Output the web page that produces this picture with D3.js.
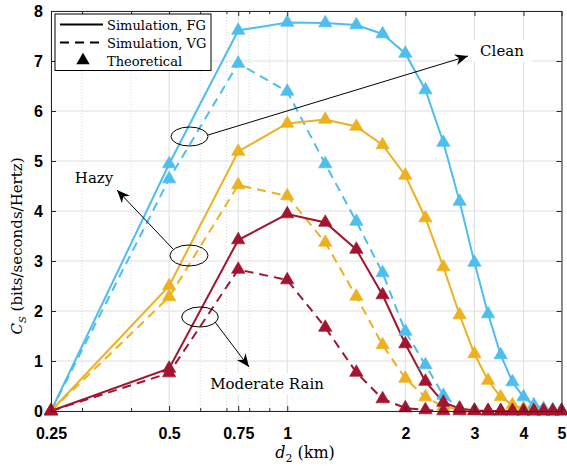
<!DOCTYPE html>
<html>
<head>
<meta charset="utf-8">
<script src="https://cdn.jsdelivr.net/npm/d3@7"></script>
<style>
  body { margin: 0; background: #fff; }
  svg { display: block; }
  .tick text { font-family: "Liberation Sans", Arial, sans-serif; font-weight: bold; font-size: 16px; fill: #000; }
  .serif { font-family: "DejaVu Serif", "Liberation Serif", serif; }
</style>
</head>
<body>
<svg id="svgRoot" width="567" height="466"></svg>
<script>
// distance values (km)
const d2 = [0.25, 0.5, 0.75, 1, 1.25, 1.5, 1.75, 2, 2.25, 2.5, 2.75, 3, 3.25, 3.5, 3.75, 4, 4.25, 4.5, 4.75, 5]

// secrecy capacity
const clean_fg = [0, 4.94, 7.61, 7.77, 7.76, 7.72, 7.54, 7.15, 6.42, 5.37, 4.19, 2.97, 1.94, 1.12, 0.58, 0.28, 0.12, 0.05, 0.02, 0.01]
const clean_vg = [0, 4.64, 6.95, 6.39, 4.94, 3.79, 2.76, 1.59, 0.92, 0.31, 0.05, 0.01, 0, 0, 0, 0, 0, 0, 0, 0]
const hazy_fg = [0, 2.5, 5.19, 5.75, 5.83, 5.69, 5.32, 4.71, 3.86, 2.88, 1.92, 1.14, 0.61, 0.28, 0.12, 0.05, 0.02, 0.01, 0, 0]
const hazy_vg = [0, 2.28, 4.52, 4.3, 3.37, 2.29, 1.32, 0.65, 0.28, 0.09, 0.03, 0.01, 0, 0, 0, 0, 0, 0, 0, 0]
const rain_fg = [0, 0.85, 3.42, 3.94, 3.77, 3.23, 2.32, 1.34, 0.59, 0.17, 0.05, 0.01, 0, 0, 0, 0, 0, 0, 0, 0]
const rain_vg = [0, 0.76, 2.83, 2.62, 1.67, 0.77, 0.24, 0.06, 0.02, 0, 0, 0, 0, 0, 0, 0, 0, 0, 0, 0]

const xTicks = [0.25, 0.5, 0.75, 1, 2, 3, 4, 5]
const xMinor = [0.3, 0.4, 0.6, 0.7, 0.8, 0.9]
const yTicks = [0, 1, 2, 3, 4, 5, 6, 7, 8]
const legendLabels = ["Simulation, FG", "Simulation, VG", "Theoretical"]

const col_clean = "#4DBEEE"
const col_hazy = "#EDB120"
const col_rain = "#A2142F"

let series = [
  { values: clean_fg, color: col_clean, dash: null },
  { values: clean_vg, color: col_clean, dash: "9,6" },
  { values: hazy_fg, color: col_hazy, dash: null },
  { values: hazy_vg, color: col_hazy, dash: "9,6" },
  { values: rain_fg, color: col_rain, dash: null },
  { values: rain_vg, color: col_rain, dash: "9,6" },
]

let svg = d3.select("#svgRoot")
const m_left = 51, m_right = 561.5, m_top = 11, m_bottom = 411

let scale_x = d3.scaleLog().domain([0.25, 5]).range([m_left, m_right])
let scale_y = d3.scaleLinear().domain([0, 8]).range([m_bottom, m_top])

// grid
let g_grid = svg.append("g")
g_grid.selectAll(".minor").data(xMinor).enter().append("line")
  .attr("x1", d => scale_x(d)).attr("x2", d => scale_x(d))
  .attr("y1", m_top).attr("y2", m_bottom)
  .attr("stroke", "#cfcfcf").attr("stroke-width", 0.8).attr("stroke-dasharray", "1,2")
g_grid.selectAll(".vmaj").data(xTicks).enter().append("line")
  .attr("x1", d => scale_x(d)).attr("x2", d => scale_x(d))
  .attr("y1", m_top).attr("y2", m_bottom)
  .attr("stroke", "#dedede").attr("stroke-width", 1)
g_grid.selectAll(".hmaj").data(yTicks).enter().append("line")
  .attr("x1", m_left).attr("x2", m_right)
  .attr("y1", d => scale_y(d)).attr("y2", d => scale_y(d))
  .attr("stroke", "#dedede").attr("stroke-width", 1)

// lines
let line = d3.line().x((d, i) => scale_x(d2[i])).y(d => scale_y(d))
let g_lines = svg.append("g")
series.forEach(s => {
  g_lines.append("path")
    .attr("d", line(s.values))
    .attr("fill", "none")
    .attr("stroke", s.color)
    .attr("stroke-width", 2)
    .attr("stroke-dasharray", s.dash)
})

// theoretical markers
let tri = d3.symbol().type(d3.symbolTriangle).size(78)
let g_marks = svg.append("g")
series.forEach(s => {
  g_marks.selectAll(null).data(s.values).enter().append("path")
    .attr("d", tri)
    .attr("transform", (d, i) => `translate(${scale_x(d2[i])},${scale_y(d)})`)
    .attr("fill", s.color)
    .attr("stroke", s.color)
    .attr("stroke-width", 0.6)
})

// annotations (ellipses, arrows, labels)
let g_ann = svg.append("g")
function arrow(x1, y1, x2, y2) {
  g_ann.append("line").attr("x1", x1).attr("y1", y1).attr("x2", x2).attr("y2", y2)
    .attr("stroke", "#000").attr("stroke-width", 1)
  let a = Math.atan2(y2 - y1, x2 - x1)
  let L = 13, W = 5.5, N = 9
  let p = [
    [x2, y2],
    [x2 - L * Math.cos(a) + W * Math.sin(a), y2 - L * Math.sin(a) - W * Math.cos(a)],
    [x2 - N * Math.cos(a), y2 - N * Math.sin(a)],
    [x2 - L * Math.cos(a) - W * Math.sin(a), y2 - L * Math.sin(a) + W * Math.cos(a)],
  ]
  g_ann.append("path").attr("d", "M" + p.join("L") + "Z").attr("fill", "#000")
}
function ellipse(cx, cy, rx, ry) {
  g_ann.append("ellipse").attr("cx", cx).attr("cy", cy).attr("rx", rx).attr("ry", ry)
    .attr("fill", "none").attr("stroke", "#000").attr("stroke-width", 1)
}
function label(txt, cx, cy, w) {
  g_ann.append("rect").attr("x", cx - w / 2).attr("y", cy - 11).attr("width", w).attr("height", 22).attr("fill", "#fff")
  g_ann.append("text").attr("class", "serif").attr("x", cx).attr("y", cy + 5)
    .attr("text-anchor", "middle")
    .style("font-size", "15px")
    .text(txt)
}
label("Clean", 502, 51, 60)
label("Hazy", 94, 178, 50)
label("Moderate Rain", 267, 384, 124)
ellipse(189.5, 136.5, 18.5, 9.5)
ellipse(189, 255.5, 19, 10.5)
ellipse(200, 317, 18.3, 10)
arrow(208, 135, 468, 56)
arrow(173, 249, 117, 190)
arrow(215, 322, 249, 367)

// axes
let g_axes = svg.append("g")
g_axes.append("g").attr("transform", `translate(0,${m_bottom})`)
  .call(d3.axisBottom(scale_x).tickValues(xTicks).tickFormat(d3.format("")).tickSizeInner(-5).tickSizeOuter(0).tickPadding(17))
g_axes.append("g").attr("transform", `translate(0,${m_bottom})`)
  .call(d3.axisBottom(scale_x).tickValues(xMinor).tickFormat("").tickSizeInner(-3).tickSizeOuter(0))
g_axes.append("g").attr("transform", `translate(0,${m_top})`)
  .call(d3.axisTop(scale_x).tickValues(xTicks).tickFormat("").tickSizeInner(-5).tickSizeOuter(0))
g_axes.append("g").attr("transform", `translate(0,${m_top})`)
  .call(d3.axisTop(scale_x).tickValues(xMinor).tickFormat("").tickSizeInner(-3).tickSizeOuter(0))
g_axes.append("g").attr("transform", `translate(${m_left},0)`)
  .call(d3.axisLeft(scale_y).tickValues(yTicks).tickSizeInner(-5).tickSizeOuter(0).tickPadding(8))
g_axes.append("g").attr("transform", `translate(${m_right},0)`)
  .call(d3.axisRight(scale_y).tickValues(yTicks).tickFormat("").tickSizeInner(-5).tickSizeOuter(0))
g_axes.selectAll(".domain, .tick line").attr("stroke", "#262626")
g_axes.selectAll(".domain").attr("stroke-width", 1)

// axis titles
let xl = svg.append("text").attr("class", "serif").attr("x", 305).attr("y", 458).attr("text-anchor", "middle")
  .style("font-size", "16px")
xl.append("tspan").style("font-style", "italic").text("d")
xl.append("tspan").style("font-size", "11px").attr("dy", 4).text("2")
xl.append("tspan").attr("dy", -4).text(" (km)")

let yl = svg.append("text").attr("class", "serif").attr("transform", "translate(22,246) rotate(-90)").attr("text-anchor", "middle")
  .style("font-size", "15px")
yl.append("tspan").style("font-style", "italic").text("C")
yl.append("tspan").style("font-style", "italic").style("font-size", "10px").attr("dy", 4).text("S")
yl.append("tspan").attr("dy", -4).text(" (bits/seconds/Hertz)")

// legend
let g_leg = svg.append("g")
g_leg.append("rect").attr("x", 55).attr("y", 14).attr("width", 156).attr("height", 56.5)
  .attr("fill", "#fff").attr("stroke", "#000").attr("stroke-width", 1)
let legRows = g_leg.selectAll(".row").data(legendLabels).enter().append("g")
  .attr("transform", (d, i) => `translate(0,${24.5 + i * 18})`)
legRows.append("text").attr("class", "serif").attr("x", 107).attr("y", 5)
  .style("font-size", "13px").text(d => d)
legRows.filter((d, i) => i < 2).append("line")
  .attr("x1", 60).attr("x2", 103).attr("y1", 0).attr("y2", 0)
  .attr("stroke", "#000").attr("stroke-width", 2)
  .attr("stroke-dasharray", (d, i) => i == 1 ? "9,6" : null)
legRows.filter((d, i) => i == 2).append("path").attr("d", tri)
  .attr("transform", "translate(83,0)").attr("fill", "#000")
</script>
</body>
</html>
